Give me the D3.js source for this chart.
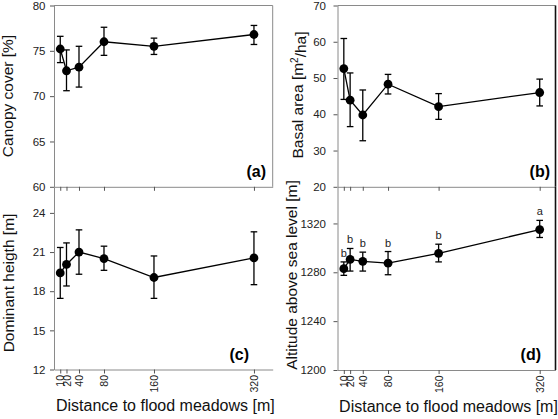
<!DOCTYPE html>
<html><head><meta charset="utf-8">
<script src="https://cdn.jsdelivr.net/npm/d3@7"></script>
<style>
html,body{margin:0;padding:0;background:#fff;}
text{font-family:"Liberation Sans",Arial,sans-serif;}
</style></head>
<body><svg id="c" width="558" height="419"></svg>
<script>
const distances = [10, 20, 40, 80, 160, 320];
const xTickLabels = ["10", "20", "40", "80", "160", "320"];

const canopyMean = [75.2, 72.8, 73.2, 76.0, 75.5, 76.8];
const canopyLow  = [73.7, 70.6, 71.0, 74.5, 74.6, 75.7];
const canopyHigh = [76.6, 75.1, 75.5, 77.6, 76.4, 77.8];
const canopyTicks = [60, 65, 70, 75, 80];

const basalMean = [52.6, 43.9, 39.8, 48.3, 42.1, 46.0];
const basalLow  = [44.1, 36.6, 32.7, 45.6, 38.6, 42.3];
const basalHigh = [60.9, 51.4, 46.7, 51.0, 45.7, 49.7];
const basalTicks = [20, 30, 40, 50, 60, 70];

const heightMean = [19.4, 20.05, 21.0, 20.5, 19.05, 20.55];
const heightLow  = [17.45, 18.4, 19.3, 19.6, 17.45, 18.5];
const heightHigh = [21.35, 21.7, 22.7, 21.45, 20.7, 22.55];
const heightTicks = [12, 15, 18, 21, 24];

const altMean = [1283, 1290.5, 1289, 1287.5, 1295.5, 1315];
const altLow  = [1277.5, 1281, 1281, 1278, 1288.5, 1308.5];
const altHigh = [1288.5, 1299.5, 1296.5, 1297, 1303, 1322.5];
const altTicks = [1200, 1240, 1280, 1320];
const altLetters = ["b", "b", "b", "b", "b", "a"];

const svg = d3.select("#c");
const AX = "#8a8a8a";
const FONT = "Liberation Sans, Arial, sans-serif";

const panels = [
  {id:"(a)", mean:canopyMean, low:canopyLow, high:canopyHigh, ticks:canopyTicks,
   xr:[54,272.7], xd:[0,350], yr:[186.8,5.5], yd:[60,80], pad:4.5,
   title:"Canopy cover [%]", tx:13, ty:96, top:true, rightCol:AX,
   lx:266, ly:177, xlabels:false},
  {id:"(b)", mean:basalMean, low:basalLow, high:basalHigh, ticks:basalTicks,
   xr:[337.5,555.5], xd:[0,345], yr:[186.8,5.5], yd:[20,70], pad:7.5,
   title:"Basal area [m", sup:"2", title2:"/ha]", tx:303, ty:95, top:true, rightCol:"#111",
   lx:550, ly:177, xlabels:false},
  {id:"(c)", mean:heightMean, low:heightLow, high:heightHigh, ticks:heightTicks,
   xr:[54,272.7], xd:[0,350], yr:[369.5,186.8], yd:[12,26], pad:4.5,
   title:"Dominant heigth [m]", tx:14, ty:283, top:false, rightCol:null,
   lx:249, ly:360, xlabels:true, xtitleY:411},
  {id:"(d)", mean:altMean, low:altLow, high:altHigh, ticks:altTicks, letters:altLetters,
   xr:[337.5,555.5], xd:[0,345], yr:[370,186.8], yd:[1200,1350], pad:7.5,
   title:"Altitude above sea level [m]", tx:297, ty:275, top:false, rightCol:"#111",
   lx:541, ly:360, xlabels:true, xtitleY:412}
];

panels.forEach(p => {
  const x = d3.scaleLinear().domain(p.xd).range(p.xr);
  const y = d3.scaleLinear().domain(p.yd).range(p.yr);
  const g = svg.append("g");
  const x0 = p.xr[0], x1 = p.xr[1], yb = p.yr[0], yt = p.yr[1];

  if (p.top) g.append("line").attr("x1",x0).attr("x2",x1).attr("y1",yt).attr("y2",yt).attr("stroke",AX).attr("stroke-width",1);
  if (p.rightCol) g.append("line").attr("x1",x1).attr("x2",x1).attr("y1",yt).attr("y2",yb)
     .attr("stroke",p.rightCol).attr("stroke-width",p.rightCol===AX?1:1.6);

  const ya = g.append("g").attr("transform",`translate(${x0},0)`)
    .call(d3.axisLeft(y).tickValues(p.ticks).tickSize(4).tickPadding(p.pad).tickSizeOuter(0).tickFormat(d3.format("d")));
  ya.select(".domain").attr("stroke",AX);
  ya.selectAll(".tick line").attr("stroke","#555");
  ya.selectAll(".tick text").attr("font-size",11.5).attr("fill","#222").attr("font-family",FONT);

  const xa = g.append("g").attr("transform",`translate(0,${yb})`)
    .call(d3.axisBottom(x).tickValues(distances).tickSize(4).tickSizeOuter(0)
      .tickFormat((d,i)=> p.xlabels ? xTickLabels[i] : ""));
  xa.select(".domain").attr("stroke",AX);
  xa.selectAll(".tick line").attr("stroke","#555");
  xa.selectAll(".tick text")
    .attr("font-size",10.5).attr("fill","#222").attr("font-family",FONT)
    .attr("transform","rotate(-90)").attr("text-anchor","end")
    .attr("x",-5.5).attr("y",0).attr("dy","0.35em");

  const line = d3.line().x((d,i)=>x(distances[i])).y(d=>y(d));
  g.append("path").datum(p.mean).attr("d",line).attr("fill","none").attr("stroke","#000").attr("stroke-width",1.3);

  const eb = g.append("g").attr("stroke","#000").attr("stroke-width",1.3);
  distances.forEach((dv,i)=>{
    const cx = x(dv);
    eb.append("line").attr("x1",cx).attr("x2",cx).attr("y1",y(p.low[i])).attr("y2",y(p.high[i]));
    eb.append("line").attr("x1",cx-3.3).attr("x2",cx+3.3).attr("y1",y(p.low[i])).attr("y2",y(p.low[i]));
    eb.append("line").attr("x1",cx-3.3).attr("x2",cx+3.3).attr("y1",y(p.high[i])).attr("y2",y(p.high[i]));
  });

  g.selectAll("circle.pt").data(p.mean).enter().append("circle")
    .attr("cx",(d,i)=>x(distances[i])).attr("cy",d=>y(d)).attr("r",4.4).attr("fill","#000");

  if (p.letters) {
    g.selectAll("text.let").data(p.letters).enter().append("text")
      .attr("x",(d,i)=>x(distances[i])).attr("y",(d,i)=>y(p.high[i])-5)
      .attr("text-anchor","middle").attr("font-size",11).attr("fill","#222").text(d=>d);
  }

  g.append("text").attr("x",p.lx).attr("y",p.ly).attr("text-anchor","end")
    .attr("font-size",16).attr("font-weight","bold").attr("fill","#000").text(p.id);

  const t = g.append("text").attr("transform",`translate(${p.tx},${p.ty}) rotate(-90)`)
    .attr("text-anchor","middle").attr("font-size",15.5).attr("fill","#111");
  if (p.sup) {
    t.append("tspan").text(p.title);
    t.append("tspan").attr("dy","-0.55em").attr("font-size",10).text(p.sup);
    t.append("tspan").attr("dy","0.55em").text(p.title2);
  } else t.text(p.title);

  if (p.xlabels) {
    g.append("text").attr("x",(x0+x1)/2 + 2).attr("y",p.xtitleY).attr("text-anchor","middle")
      .attr("font-size",16).attr("fill","#111").text("Distance to flood meadows [m]");
  }
});
</script>
</body></html>
